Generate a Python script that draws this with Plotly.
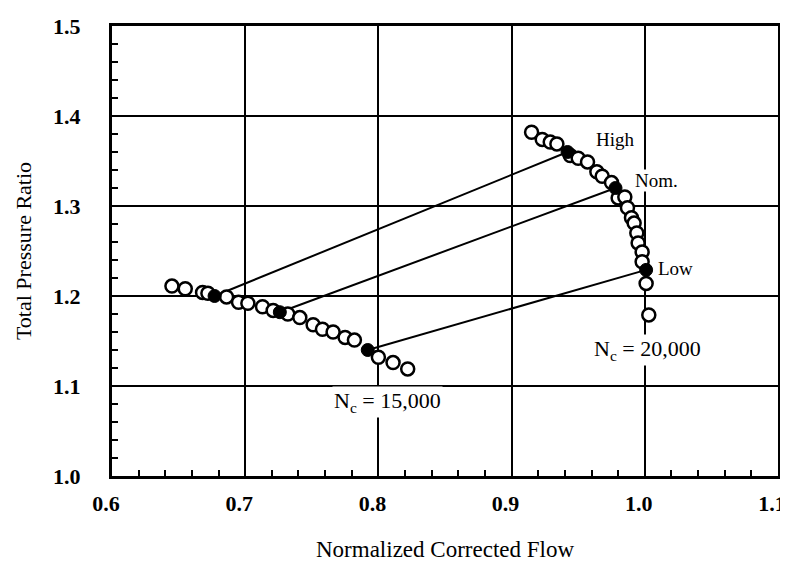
import plotly.graph_objects as go

# N_c = 20,000 speed line
flow_20k = [0.915, 0.923, 0.929, 0.934, 0.944, 0.950, 0.957, 0.964, 0.968, 0.975,
            0.980, 0.985, 0.987, 0.990, 0.992, 0.994, 0.995, 0.998, 0.998, 1.001, 1.003]
pr_20k = [1.382, 1.374, 1.371, 1.369, 1.356, 1.353, 1.349, 1.338, 1.333, 1.326,
          1.309, 1.310, 1.298, 1.287, 1.281, 1.270, 1.259, 1.249, 1.238, 1.214, 1.179]

# N_c = 15,000 speed line
flow_15k = [0.645, 0.655, 0.668, 0.672, 0.686, 0.695, 0.702, 0.713, 0.721, 0.732,
            0.741, 0.751, 0.758, 0.766, 0.775, 0.782, 0.800, 0.811, 0.822]
pr_15k = [1.211, 1.208, 1.204, 1.203, 1.199, 1.193, 1.192, 1.188, 1.184, 1.180,
          1.176, 1.168, 1.163, 1.160, 1.154, 1.151, 1.132, 1.126, 1.119]

# Operating lines (High / Nom. / Low)
op_labels = ["High", "Nom.", "Low"]
op_flow_15k = [0.677, 0.726, 0.792]
op_pr_15k = [1.200, 1.182, 1.140]
op_flow_20k = [0.942, 0.978, 1.001]
op_pr_20k = [1.360, 1.320, 1.229]

x_ticks = [0.6, 0.7, 0.8, 0.9, 1.0, 1.1]
x_ticklabels = ["0.6", "0.7", "0.8", "0.9", "1.0", "1.1"]
y_ticks = [1.0, 1.1, 1.2, 1.3, 1.4, 1.5]
y_ticklabels = ["1.0", "1.1", "1.2", "1.3", "1.4", "1.5"]

FONT = "Liberation Serif, Times New Roman, serif"

fig = go.Figure()

# operating lines
for i in range(len(op_labels)):
    fig.add_trace(go.Scatter(
        x=[op_flow_15k[i], op_flow_20k[i]], y=[op_pr_15k[i], op_pr_20k[i]],
        mode="lines", line=dict(color="black", width=2), showlegend=False,
        hoverinfo="skip"))

open_marker = dict(symbol="circle", size=13, color="white",
                   line=dict(color="black", width=2.5))
fig.add_trace(go.Scatter(x=flow_15k, y=pr_15k, mode="markers",
                         marker=open_marker, showlegend=False))
fig.add_trace(go.Scatter(x=flow_20k, y=pr_20k, mode="markers",
                         marker=open_marker, showlegend=False))
fig.add_trace(go.Scatter(x=op_flow_15k + op_flow_20k, y=op_pr_15k + op_pr_20k,
                         mode="markers",
                         marker=dict(symbol="circle", size=13, color="black",
                                     line=dict(color="black", width=1)),
                         showlegend=False))

ann_font = dict(family=FONT, size=19, color="black")
label_pos = [(0.978, 1.374), (1.009, 1.328), (1.023, 1.231)]
for lab, (ax_, ay_) in zip(op_labels, label_pos):
    fig.add_annotation(x=ax_, y=ay_, text=lab, showarrow=False, font=ann_font,
                       bgcolor="white", borderpad=0)
nc_font = dict(family=FONT, size=22, color="black")
fig.add_annotation(x=1.002, y=1.140, text="N<sub>c</sub> = 20,000", showarrow=False,
                   font=nc_font, bgcolor="white", borderpad=1)
fig.add_annotation(x=0.807, y=1.082, text="N<sub>c</sub> = 15,000", showarrow=False,
                   font=nc_font, bgcolor="white", borderpad=1)

axis_common = dict(
    showline=True, linecolor="black", linewidth=3, mirror=True,
    showgrid=True, gridcolor="black", gridwidth=2,
    ticks="inside", ticklen=6, tickwidth=2, tickcolor="black",
    tickfont=dict(family=FONT, size=22, color="black", weight="bold"),
    zeroline=False, automargin=False, ticklabeloverflow="allow",
    minor=dict(ticks="inside", ticklen=6, tickwidth=2, tickcolor="black",
               showgrid=False),
)

fig.update_xaxes(**axis_common, range=[0.6, 1.1], tickvals=x_ticks,
                 ticktext=x_ticklabels,
                 title=dict(text="Normalized Corrected Flow",
                            font=dict(family=FONT, size=23, color="black"),
                            standoff=26),
                 ticklabelstandoff=6, ticklabelshift=-6)
fig.update_xaxes(minor_dtick=0.02, minor_tick0=0.6)
fig.update_yaxes(**axis_common, range=[1.0, 1.5], tickvals=y_ticks,
                 ticktext=y_ticklabels,
                 title=dict(text="Total Pressure Ratio",
                            font=dict(family=FONT, size=22, color="black"),
                            standoff=16),
                 ticklabelstandoff=24)
fig.update_yaxes(minor_dtick=0.02, minor_tick0=1.0)

# the page adds an 8px body margin, so the figure is sized to fill the rest
fig.update_layout(
    width=780, height=554,
    margin=dict(l=104, r=10, t=18, b=86),
    plot_bgcolor="white", paper_bgcolor="white",
    font=dict(family=FONT, color="black"),
)

fig.write_html("out.html")
